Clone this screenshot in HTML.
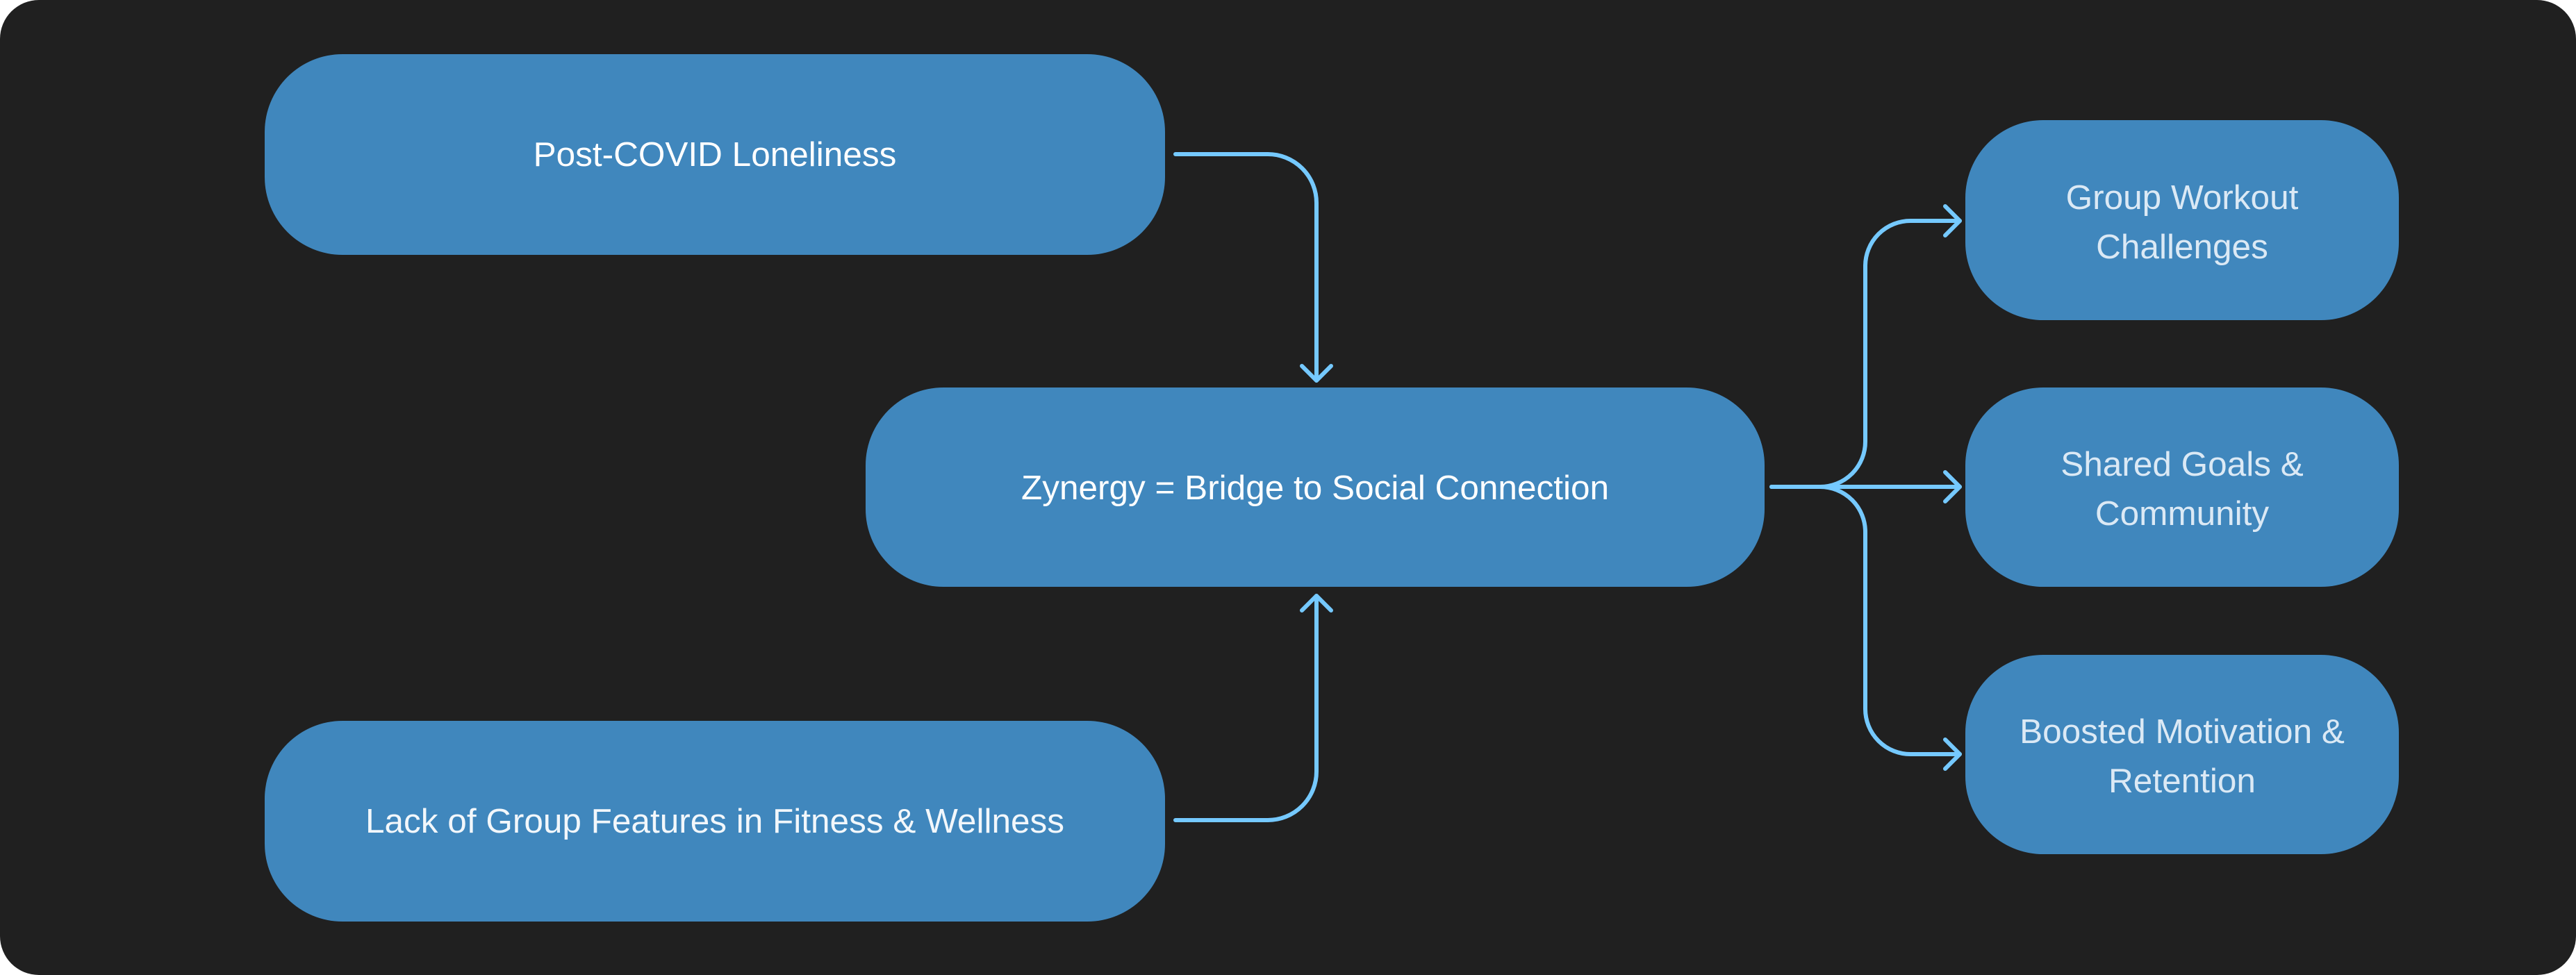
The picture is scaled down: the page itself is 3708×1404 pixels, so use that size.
<!DOCTYPE html>
<html><head><meta charset="utf-8"><style>
html,body{margin:0;padding:0;background:#fff;}
svg{display:block;}
</style></head><body>
<svg width="3708" height="1404" viewBox="0 0 3708 1404" xmlns="http://www.w3.org/2000/svg">
<rect x="0" y="0" width="3708" height="1404" rx="56" fill="#202020"/>
<g fill="#4087bd">
<rect x="381" y="78" width="1296" height="289" rx="112"/>
<rect x="1246" y="558" width="1294" height="287" rx="112"/>
<rect x="381" y="1038" width="1296" height="289" rx="112"/>
<rect x="2829" y="173" width="624" height="288" rx="112"/>
<rect x="2829" y="558" width="624" height="287" rx="112"/>
<rect x="2829" y="943" width="624" height="287" rx="112"/>
</g>
<g fill="none" stroke="#75c9ff" stroke-width="6" stroke-linecap="round" stroke-linejoin="round">
<path d="M1692 222 H1825 A70 70 0 0 1 1895 292 V548"/>
<path d="M1874 527 L1895 548 L1916 527"/>
<path d="M1692 1181 H1825 A70 70 0 0 0 1895 1111 V858"/>
<path d="M1874 879 L1895 858 L1916 879"/>
<path d="M2550 701 H2620 A65 65 0 0 0 2685 636 V383 A65 65 0 0 1 2750 318 H2821"/>
<path d="M2800 297 L2821 318 L2800 339"/>
<path d="M2550 701 H2821"/>
<path d="M2800 680 L2821 701 L2800 722"/>
<path d="M2620 701 A65 65 0 0 1 2685 766 V1021 A65 65 0 0 0 2750 1086 H2821"/>
<path d="M2800 1065 L2821 1086 L2800 1107"/>
</g>
<g font-family="Liberation Sans, sans-serif" font-size="49.5" text-anchor="middle">
<text x="1029" y="239" fill="#ffffff">Post-COVID Loneliness</text>
<text x="1893" y="719" fill="#ffffff">Zynergy = Bridge to Social Connection</text>
<text x="1029" y="1199" fill="#f2f7fb">Lack of Group Features in Fitness &amp; Wellness</text>
<g fill="#dbe9f5">
<text x="3141" y="301">Group Workout</text>
<text x="3141" y="372">Challenges</text>
<text x="3141" y="685">Shared Goals &amp;</text>
<text x="3141" y="756">Community</text>
<text x="3141" y="1070">Boosted Motivation &amp;</text>
<text x="3141" y="1141">Retention</text>
</g>
</g>
</svg>
</body></html>
